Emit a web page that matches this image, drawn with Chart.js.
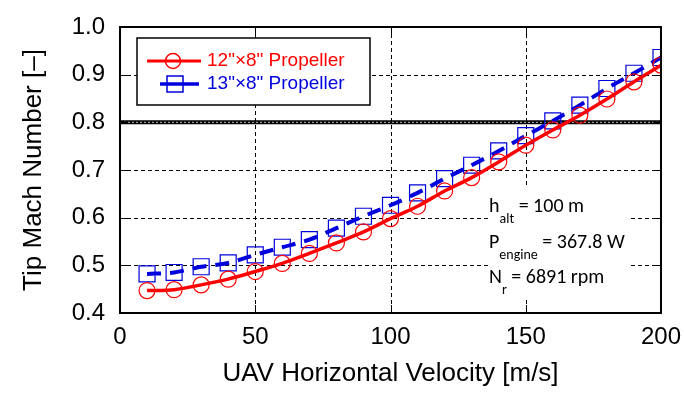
<!DOCTYPE html>
<html>
<head>
<meta charset="utf-8">
<script src="https://cdn.jsdelivr.net/npm/chart.js@4.4.1/dist/chart.umd.min.js"></script>
<style>
  html, body { margin: 0; padding: 0; background: #fff; }
  #wrap { width: 684px; height: 394px; }
</style>
</head>
<body>
<div id="wrap"><canvas id="machChart" width="684" height="394"></canvas></div>
<script>
// --- Data ---
const velocities = [10, 20, 30, 40, 50, 60, 70, 80, 90, 100, 110, 120, 130, 140, 150, 160, 170, 180, 190, 200];
const mach12x8 = [0.447, 0.449, 0.459, 0.471, 0.487, 0.504, 0.525, 0.547, 0.570, 0.598, 0.624, 0.656, 0.684, 0.717, 0.752, 0.784, 0.815, 0.849, 0.885, 0.920];
const mach13x8 = [0.482, 0.485, 0.497, 0.505, 0.522, 0.538, 0.554, 0.578, 0.603, 0.626, 0.652, 0.682, 0.710, 0.740, 0.772, 0.803, 0.836, 0.871, 0.903, 0.936];
const seriesLabels = ['12"\u00d78" Propeller', '13"\u00d78" Propeller'];
const xTicks = [0, 50, 100, 150, 200];
const yTicks = [0.4, 0.5, 0.6, 0.7, 0.8, 0.9, 1.0];
const limitMach = 0.8;
const noteLines = [
    { main: 'h', sub: 'alt', rest: ' = 100 m' },
    { main: 'P', sub: 'engine', rest: ' = 367.8 W' },
    { main: 'N', sub: 'r', rest: ' = 6891 rpm' }
];

const RED = '#ff0000';
const BLUE = '#0000dd';
const FONT = "'Liberation Sans', Arial, sans-serif";
const NOTE_FONT = "Carlito, 'Open Sans', sans-serif";

const toPoints = (ys) => velocities.map((v, i) => ({ x: v, y: ys[i] }));
const crisp = (p) => Math.round(p) + 0.5;

// --- Plugins ---
const framePlugin = {
    id: 'frame',
    beforeDatasetsDraw(chart) {
        const { ctx, chartArea: a, scales: { x, y } } = chart;
        ctx.save();
        // dashed grid
        ctx.strokeStyle = '#000';
        ctx.lineWidth = 1;
        ctx.setLineDash([4, 3]);
        xTicks.slice(1, -1).forEach(v => {
            const px = crisp(x.getPixelForValue(v));
            ctx.beginPath(); ctx.moveTo(px, a.top); ctx.lineTo(px, a.bottom); ctx.stroke();
        });
        yTicks.slice(1, -1).forEach(v => {
            const py = crisp(y.getPixelForValue(v));
            ctx.beginPath(); ctx.moveTo(a.left, py); ctx.lineTo(a.right, py); ctx.stroke();
        });
        ctx.setLineDash([]);
        // white patch behind the note text
        ctx.fillStyle = '#fff';
        ctx.fillRect(488, 188, 142, 110);
        // limit line at Mach 0.8
        const yl = y.getPixelForValue(limitMach);
        ctx.strokeStyle = '#000';
        ctx.lineWidth = 4;
        ctx.beginPath(); ctx.moveTo(a.left, yl); ctx.lineTo(a.right, yl); ctx.stroke();
        ctx.strokeStyle = '#bbb';
        ctx.lineWidth = 1;
        ctx.setLineDash([2, 2]);
        ctx.beginPath(); ctx.moveTo(a.left, yl); ctx.lineTo(a.right, yl); ctx.stroke();
        ctx.setLineDash([]);
        // inward tick marks
        ctx.strokeStyle = '#000';
        ctx.lineWidth = 1;
        xTicks.forEach(v => {
            const px = crisp(x.getPixelForValue(v));
            ctx.beginPath();
            ctx.moveTo(px, a.bottom); ctx.lineTo(px, a.bottom - 8);
            ctx.moveTo(px, a.top); ctx.lineTo(px, a.top + 8);
            ctx.stroke();
        });
        yTicks.forEach(v => {
            const py = crisp(y.getPixelForValue(v));
            ctx.beginPath();
            ctx.moveTo(a.left, py); ctx.lineTo(a.left + 8, py);
            ctx.moveTo(a.right, py); ctx.lineTo(a.right - 8, py);
            ctx.stroke();
        });
        ctx.restore();
    },
    afterDatasetsDraw(chart) {
        const { ctx, chartArea: a } = chart;
        ctx.save();
        // plot frame
        ctx.strokeStyle = '#000';
        ctx.lineWidth = 2;
        ctx.strokeRect(a.left, a.top, a.right - a.left, a.bottom - a.top);

        // legend box
        ctx.fillStyle = '#fff';
        ctx.fillRect(137, 38, 233, 67);
        ctx.lineWidth = 1.5;
        ctx.strokeRect(137, 38, 233, 67);

        // legend entry 1: red line + circle
        ctx.strokeStyle = RED;
        ctx.lineWidth = 3;
        ctx.beginPath(); ctx.moveTo(147, 61); ctx.lineTo(201, 61); ctx.stroke();
        ctx.lineWidth = 1.5;
        ctx.beginPath(); ctx.arc(173, 61, 7.5, 0, Math.PI * 2); ctx.stroke();
        // legend entry 2: blue line + square
        ctx.strokeStyle = BLUE;
        ctx.lineWidth = 3.5;
        ctx.beginPath(); ctx.moveTo(160, 84); ctx.lineTo(199, 84); ctx.stroke();
        ctx.lineWidth = 1.5;
        ctx.strokeRect(167, 76, 16, 16);

        ctx.font = '19px ' + FONT;
        ctx.textBaseline = 'middle';
        ctx.textAlign = 'left';
        ctx.fillStyle = RED;
        ctx.fillText(chart.data.datasets[0].label, 207, 61);
        ctx.fillStyle = BLUE;
        ctx.fillText(chart.data.datasets[1].label, 207, 84);

        // operating-condition note
        ctx.fillStyle = '#000';
        noteLines.forEach((ln, i) => {
            const yb = 212 + i * 35.5;
            ctx.textBaseline = 'alphabetic';
            ctx.font = '20px ' + NOTE_FONT;
            ctx.fillText(ln.main, 489, yb);
            let xx = 489 + ctx.measureText(ln.main).width;
            ctx.font = '14px ' + NOTE_FONT;
            ctx.fillText(ln.sub, xx, yb + 11);
            xx += ctx.measureText(ln.sub).width;
            ctx.font = '20px ' + NOTE_FONT;
            ctx.fillText(ln.rest, xx, yb);
        });
        ctx.restore();
    }
};

// --- Chart ---
const noGrid = { display: false, drawTicks: false };

new Chart(document.getElementById('machChart'), {
    type: 'line',
    data: {
        datasets: [
            {
                label: seriesLabels[0],
                data: toPoints(mach12x8),
                borderColor: RED,
                borderWidth: 3.5,
                pointStyle: 'circle',
                pointRadius: 8,
                pointBorderWidth: 1.2,
                pointBorderColor: RED,
                pointBackgroundColor: 'rgba(0,0,0,0)',
                cubicInterpolationMode: 'monotone'
            },
            {
                label: seriesLabels[1],
                data: toPoints(mach13x8),
                borderColor: BLUE,
                borderWidth: 4,
                borderDash: [14, 9],
                pointStyle: 'rect',
                pointRadius: 11.3,
                pointBorderWidth: 1.2,
                pointBorderColor: BLUE,
                pointBackgroundColor: 'rgba(0,0,0,0)',
                cubicInterpolationMode: 'monotone'
            }
        ]
    },
    options: {
        responsive: false,
        animation: false,
        layout: { padding: { left: 14, right: 23, top: 27, bottom: 1 } },
        plugins: { legend: { display: false }, tooltip: { enabled: false } },
        scales: {
            x: {
                type: 'linear',
                min: 0, max: 200,
                afterBuildTicks: (s) => { s.ticks = xTicks.map(v => ({ value: v })); },
                afterFit: (s) => { s.height = 80; s.paddingLeft = 0; s.paddingRight = 0; },
                grid: noGrid,
                border: { display: false },
                ticks: { color: '#000', font: { family: FONT, size: 24 }, padding: 10, maxRotation: 0 },
                title: { display: true, text: 'UAV Horizontal Velocity [m/s]', color: '#000', font: { family: FONT, size: 26 } }
            },
            y: {
                min: 0.4, max: 1.0,
                afterBuildTicks: (s) => { s.ticks = yTicks.map(v => ({ value: v })); },
                afterFit: (s) => { s.width = 106; s.paddingTop = 0; s.paddingBottom = 0; },
                grid: noGrid,
                border: { display: false },
                ticks: { color: '#000', font: { family: FONT, size: 24 }, padding: 15, callback: (v) => v.toFixed(1) },
                title: { display: true, text: 'Tip Mach Number [\u2013]', color: '#000', font: { family: FONT, size: 26 } }
            }
        }
    },
    plugins: [framePlugin]
});
</script>
</body>
</html>
